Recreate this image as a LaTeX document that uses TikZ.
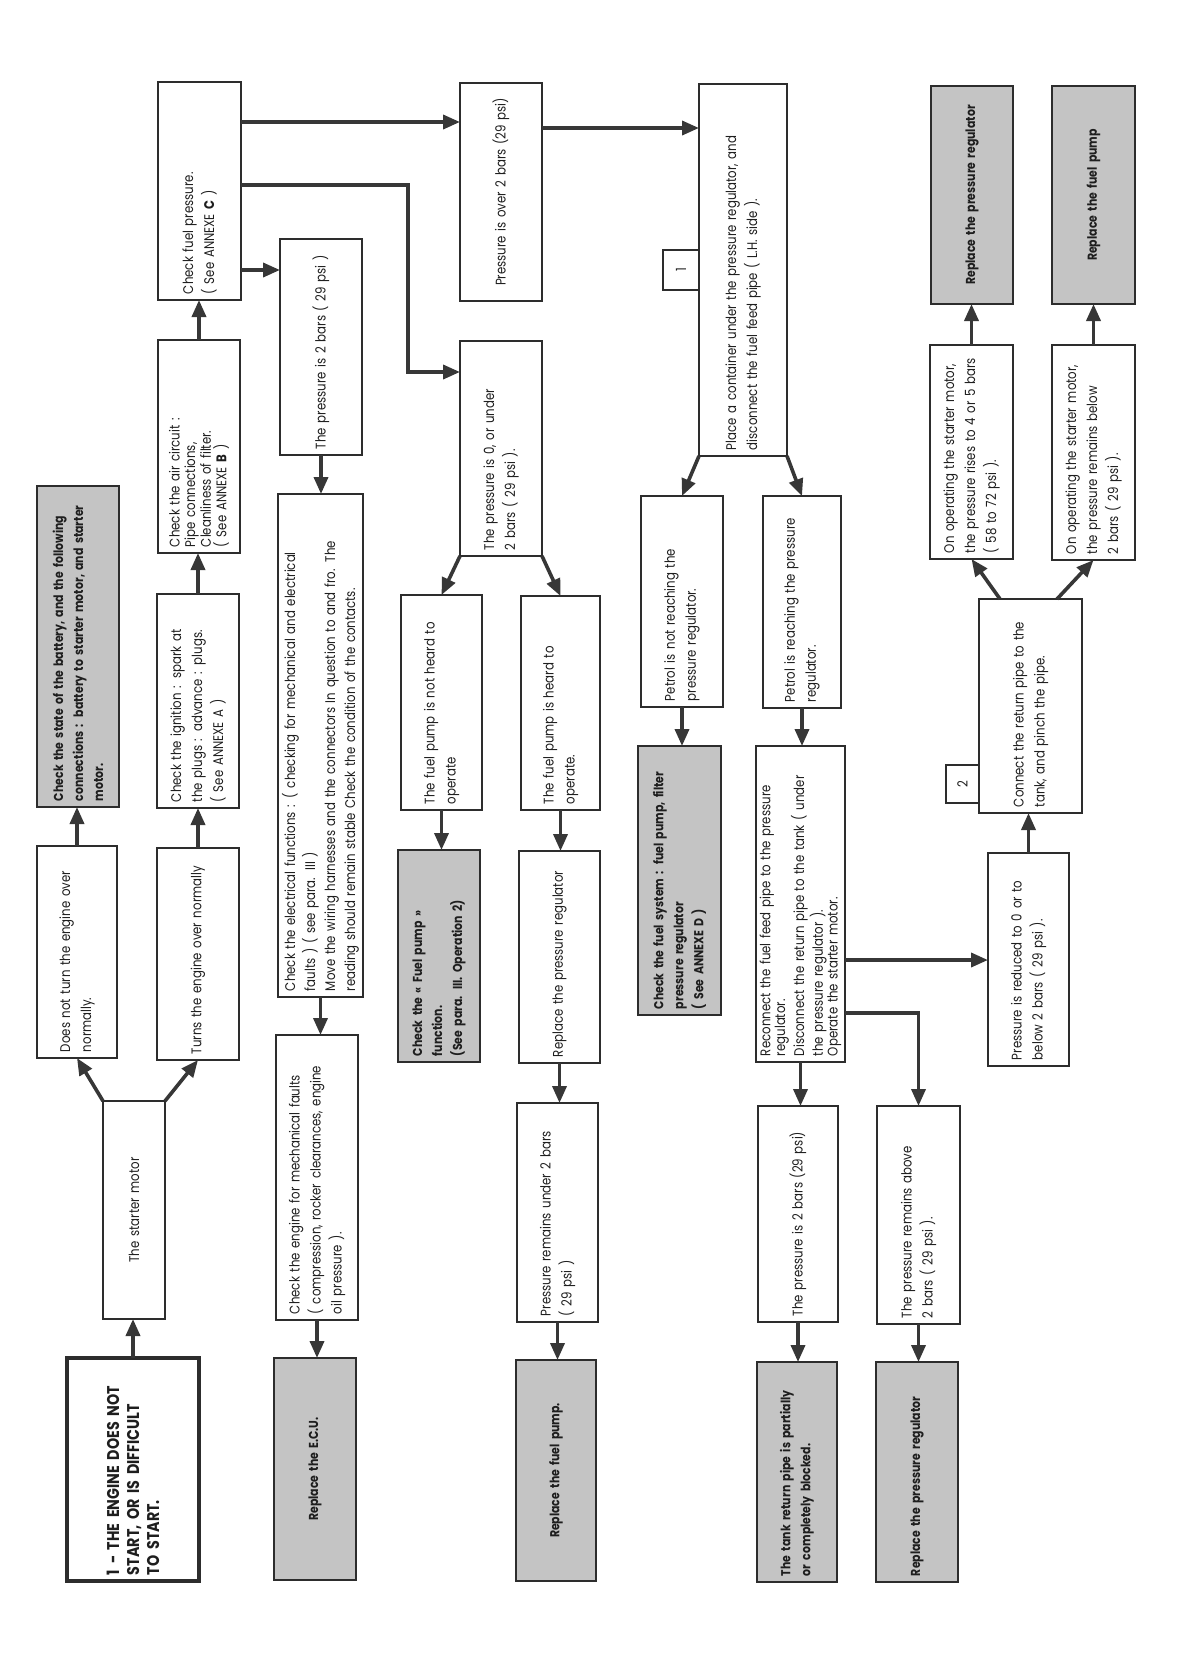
\documentclass[tikz,border=0pt]{standalone}
\usepackage{fontspec}
\setmainfont{Poppins}[FakeStretch=0.84]
\usetikzlibrary{arrows.meta, calc}
\definecolor{chartInk}{RGB}{30,30,30}
\definecolor{chartLine}{RGB}{45,45,45}
\definecolor{chartArrow}{RGB}{55,55,55}
\definecolor{chartShade}{RGB}{196,196,196}
\tikzset{
  % every box of the chart is turned a quarter turn, text reads upwards
  box/.style={
    draw=chartLine, line width=1pt, rotate=90, align=left,
    inner xsep=3pt, inner ysep=2pt, outer sep=0pt, text=chartInk,
    font=\fontsize{7}{10.5}\selectfont
  },
  % grey boxes hold the remedy
  verdict/.style={box, fill=chartShade, font=\fontsize{6.5}{10}\selectfont\bfseries},
  heading/.style={box, line width=1.8pt, font=\fontsize{8.5}{10}\selectfont\bfseries},
  % the little numbered boxes
  tag/.style={box, align=center, inner sep=0pt},
  % arrows
  flow/.style={-{Triangle[length=8.5pt,width=7pt]}, draw=chartArrow, line width=1.8pt},
}

\begin{document}
\begin{tikzpicture}[x=0.5pt, y=-0.5pt]
\useasboundingbox (0,0) rectangle (1191,1677);

% =========================== starter motor ================================
\node[heading, text width=105.5pt, minimum height=66pt] (start) at (133,1469.5)
      {1 - THE ENGINE DOES NOT\\START, OR IS DIFFICULT\\TO START.};
\node[box, align=center, text width=103pt, minimum height=31pt] (starter) at (134,1210)
      {The starter motor};
\node[box, text width=100pt, minimum height=40pt] (noturn) at (77,952)
      {Does not turn the engine over\\normally.};
\node[verdict, text width=154.5pt, minimum height=41pt] (battery) at (78,646.5)
      {Check the state of the battery, and the following\\connections : battery to starter motor, and starter\\motor.};

% ============================ engine turns ================================
\node[box, text width=100pt, minimum height=41pt] (turns) at (198,954)
      {Turns the engine over normally};
\node[box, text width=101pt, minimum height=41pt] (ignition) at (198,701)
      {Check the ignition : spark at\\the plugs : advance : plugs.\\( See ANNEXE A )};
\node[box, text width=100.5pt, minimum height=41pt, font=\fontsize{7}{7.8}\selectfont] (air) at (199,446.5)
      {Check the air circuit :\\Pipe connections,\\Cleanliness of filter.\\( See ANNEXE \textbf{B} )};
\node[box, text width=103pt, minimum height=41.5pt] (fuelpress) at (199.5,191)
      {Check fuel pressure.\\( See ANNEXE \textbf{C} )};

% ============================ 2 bars exactly ==============================
\node[box, text width=102pt, minimum height=41pt] (twobar) at (321,347)
      {The pressure is 2 bars ( 29 psi )};
\node[box, text width=245.5pt, minimum height=42.5pt, font=\fontsize{7}{10}\selectfont] (electric) at (320.5,745.5)
      {Check the electrical functions : ( checking for mechanical and electrical\\faults ) ( see para. III )\\Move the wiring harnesses and the connectors In question to and fro.  The\\reading should remain stable  Check the condition of the contacts.};
\node[box, text width=136.5pt, minimum height=41pt] (mech) at (317,1177.5)
      {Check the engine for mechanical faults\\( compression, rocker clearances, engine\\oil pressure ).};
\node[verdict, align=center, text width=105pt, minimum height=41pt] (ecu) at (315,1469)
      {Replace the E.C.U.};

% ======================== over 2 bars / under 2 bars =======================
\node[box, align=center, text width=103pt, minimum height=41pt] (overtwo) at (501,192)
      {Pressure is over 2 bars (29 psi)};
\node[box, text width=101.5pt, minimum height=41pt] (zerobar) at (501,448.5)
      {The pressure is 0, or under\\2 bars ( 29 psi ).};
\node[box, text width=101.5pt, minimum height=40.5pt] (pumpsilent) at (441.5,702.5)
      {The fuel pump is not heard to\\operate};
\node[box, text width=101pt, minimum height=39.5pt] (pumpheard) at (560.5,703)
      {The fuel pump is heard to\\operate.};
\node[verdict, text width=100pt, minimum height=41pt] (pumpcheck) at (439,956)
      {Check the « Fuel pump »\\function.\\(See para. III.  Operation 2)};
\node[box, text width=100pt, minimum height=40.5pt] (regswap) at (559.5,957)
      {Replace the pressure regulator};
\node[box, text width=103.5pt, minimum height=40.5pt] (stillunder) at (557.5,1212.5)
      {Pressure remains under 2 bars\\( 29 psi )};
\node[verdict, align=center, text width=104.5pt, minimum height=40pt] (pumpswap) at (556,1470.5)
      {Replace the fuel pump.};

% ========================== step 1 : feed pipe ============================
\node[box, text width=180pt, minimum height=44pt] (container) at (743,270)
      {Place a container under the pressure regulator, and\\disconnect the fuel feed pipe ( L.H. side ).};
\node[tag, minimum width=20pt, minimum height=18pt] (tagone) at (681,270) {1};
\node[box, text width=99.5pt, minimum height=41pt] (petrolno) at (682,601.5)
      {Petrol is not reaching the\\pressure regulator.};
\node[box, text width=100pt, minimum height=39pt] (petrolyes) at (802,602)
      {Petrol is reaching the pressure\\regulator.};
\node[verdict, text width=128.5pt, minimum height=41.5pt] (systemcheck) at (679.5,880.5)
      {Check the fuel system : fuel pump, filter\\pressure regulator\\( See ANNEXE D )};
\node[box, text width=152pt, minimum height=39.5pt, font=\fontsize{7}{7.4}\selectfont] (reconnect) at (800.5,904)
      {Reconnect the fuel feed pipe to the pressure\\regulator.\\Disconnect the return pipe to the tank ( under\\the pressure regulator ).\\Operate the starter motor.};
\node[box, text width=102pt, minimum height=40pt] (twobarlow) at (798,1214)
      {The pressure is 2 bars (29 psi)};
\node[verdict, text width=104pt, minimum height=40pt] (tankblocked) at (797,1472)
      {The tank return pipe is partially\\or completely blocked.};
\node[box, text width=103pt, minimum height=41.5pt] (stillabove) at (918.5,1215)
      {The pressure remains above\\2 bars ( 29 psi ).};
\node[verdict, text width=104pt, minimum height=41pt] (regswaplow) at (917,1472)
      {Replace the pressure regulator};

% ========================= step 2 : return pipe ===========================
\node[box, text width=100.5pt, minimum height=40.5pt] (reduced) at (1028.5,959.5)
      {Pressure is reduced to 0 or to\\below 2 bars ( 29 psi ).};
\node[box, text width=101pt, minimum height=51.5pt] (pinch) at (1030.5,706)
      {Connect the return pipe to the\\tank, and pinch the pipe.};
\node[tag, minimum width=19pt, minimum height=16.5pt] (tagtwo) at (962.5,784) {2};
\node[box, text width=101pt, minimum height=41.5pt] (rises) at (971.5,452)
      {On operating the starter motor,\\the pressure rises to 4 or 5 bars\\( 58 to 72 psi ).};
\node[box, text width=101.5pt, minimum height=41.5pt] (staysbelow) at (1093.5,452.5)
      {On operating the starter motor,\\the pressure remains below\\2 bars ( 29 psi ).};
\node[verdict, align=center, text width=103pt, minimum height=41pt] (regswaptop) at (972,195)
      {Replace the pressure regulator};
\node[verdict, align=center, text width=103pt, minimum height=41.5pt] (pumpswaptop) at (1093.5,195)
      {Replace the fuel pump};

% ============================== connectors ================================
\draw[flow] (start.east) -- (start.east |- starter.west);
\draw[flow] (starter.north east) -- (noturn.west);
\draw[flow] (starter.south east) -- (turns.west);
\draw[flow] (noturn.east) -- (noturn.east |- battery.west);

\draw[flow] (turns.east) -- (turns.east |- ignition.west);
\draw[flow] (ignition.east) -- (ignition.east |- air.west);
\draw[flow] (air.east) -- (air.east |- fuelpress.west);

% the three pressure readings
\coordinate (fp1) at ($(fuelpress.south east)+(0,40)$);
\coordinate (fp2) at ($(fuelpress.south east)+(0,103)$);
\coordinate (fp3) at ($(fuelpress.south east)+(0,188)$);
\draw[flow] (fp1) -- (fp1 -| overtwo.north);
\draw[flow] (fp2) -- ++(167,0) |- ($(zerobar.north east)+(0,31)$);
\draw[flow] (fp3) -- (fp3 -| twobar.north);

\draw[flow] (twobar.west) -- (twobar.west |- electric.east);
\draw[flow] (electric.west) -- (electric.west |- mech.east);
\draw[flow] (mech.west) -- (mech.west |- ecu.east);

\draw[flow] (zerobar.north west) -- (pumpsilent.east);
\draw[flow] (zerobar.south west) -- (pumpheard.east);
\draw[flow] (pumpsilent.west) -- (pumpsilent.west |- pumpcheck.east);
\draw[flow] (pumpheard.west) -- (pumpheard.west |- regswap.east);
\draw[flow] (regswap.west) -- (regswap.west |- stillunder.east);
\draw[flow] (stillunder.west) -- (stillunder.west |- pumpswap.east);

\coordinate (ov1) at ($(overtwo.south east)+(0,45)$);
\draw[flow] (ov1) -- (ov1 -| container.north);

\draw[flow] (container.north west) -- (petrolno.east);
\draw[flow] (container.south west) -- (petrolyes.east);
\draw[flow] (petrolno.west) -- (petrolno.west |- systemcheck.east);
\draw[flow] (petrolyes.west) -- (petrolyes.west |- reconnect.east);
\draw[flow] (reconnect.west) -- (reconnect.west |- twobarlow.east);
\draw[flow] (twobarlow.west) -- (twobarlow.west |- tankblocked.east);
\draw[flow] (stillabove.west) -- (stillabove.west |- regswaplow.east);

\coordinate (rc1) at ($(reconnect.south west)+(0,-102)$);
\draw[flow] (rc1) -- (rc1 -| reduced.north);
\draw[flow] ($(reconnect.south west)+(0,-49)$) -| (stillabove.east);

\draw[flow] (reduced.east) -- (reduced.east |- pinch.west);
\draw[flow] ($(pinch.north east)+(21,0)$) -- (rises.west);
\draw[flow] ($(pinch.south east)+(-25,0)$) -- (staysbelow.west);
\draw[flow] (rises.east) -- (rises.east |- regswaptop.west);
\draw[flow] (staysbelow.east) -- (staysbelow.east |- pumpswaptop.west);

\end{tikzpicture}
\end{document}
